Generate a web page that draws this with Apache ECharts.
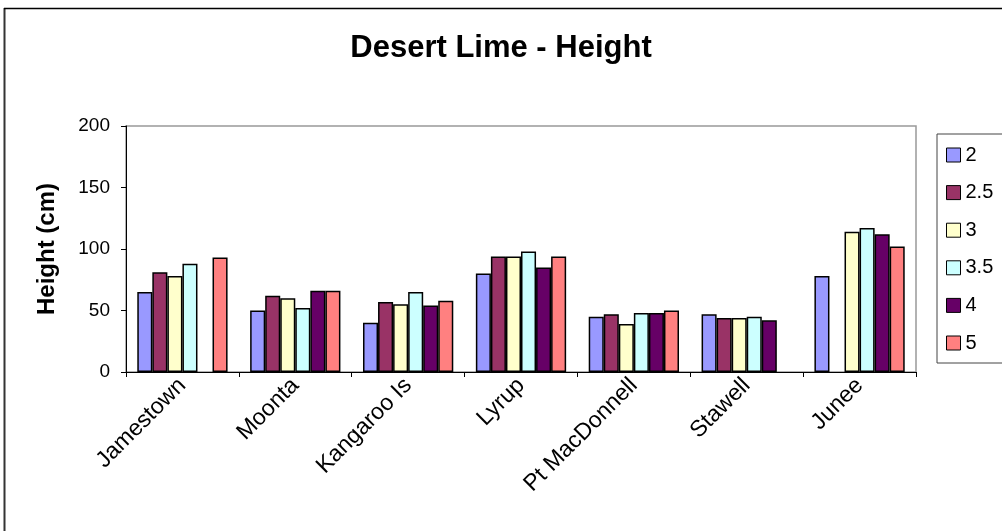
<!DOCTYPE html>
<html>
<head>
<meta charset="utf-8">
<script src="https://cdn.jsdelivr.net/npm/echarts@6/dist/echarts.min.js"></script>
<style>
html,body{margin:0;padding:0;background:#fff;}
#chart{width:1002px;height:531px;}
</style>
</head>
<body>
<div id="chart"></div>
<script>
const categories = ['Jamestown', 'Moonta', 'Kangaroo Is', 'Lyrup', 'Pt MacDonnell', 'Stawell', 'Junee'];
const seriesNames = ['2', '2.5', '3', '3.5', '4', '5'];
const s2   = [65, 50, 40, 80, 45, 47, 78];
const s2_5 = [81, 62, 57, 94, 47, 44, null];
const s3   = [78, 60, 55, 94, 39, 44, 114];
const s3_5 = [88, 52, 65, 98, 48, 45, 117];
const s4   = [null, 66, 54, 85, 48, 42, 112];
const s5   = [93, 66, 58, 94, 50, null, 102];
const yTicks = [0, 50, 100, 150, 200];

const values = [s2, s2_5, s3, s3_5, s4, s5];
const colors = ['#9999FF', '#993366', '#FFFFCC', '#CCFFFF', '#660066', '#FF8080'];
const FONT = 'Liberation Sans, Arial, sans-serif';

const chart = echarts.init(document.getElementById('chart'), null, {renderer: 'canvas'});
chart.setOption({
  animation: false,
  backgroundColor: '#fff',
  title: {
    text: 'Desert Lime - Height',
    left: 'center',
    top: 33,
    padding: 0,
    textStyle: {fontFamily: FONT, fontSize: 31, fontWeight: 'bold', color: '#000'}
  },
  graphic: [
    {type: 'line', shape: {x1: 4.5, y1: 8, x2: 4.5, y2: 540}, style: {stroke: '#333', lineWidth: 2}},
    {type: 'line', shape: {x1: 4, y1: 8.5, x2: 1010, y2: 8.5}, style: {stroke: '#000', lineWidth: 1.5}}
  ],
  legend: {
    orient: 'vertical',
    left: 937,
    top: 134,
    padding: [11, 40, 10, 9],
    borderColor: '#444',
    borderWidth: 1,
    itemWidth: 14,
    itemHeight: 14,
    itemGap: 17.6,
    icon: 'rect',
    itemStyle: {borderColor: '#000', borderWidth: 1},
    textStyle: {fontFamily: FONT, fontSize: 20, color: '#000'},
    data: seriesNames
  },
  grid: {
    left: 126, right: 86, top: 126, bottom: 159,
    show: true, borderColor: '#999', borderWidth: 1.5, backgroundColor: '#fff'
  },
  xAxis: {
    type: 'category',
    data: categories,
    axisLine: {lineStyle: {color: '#000', width: 1}},
    axisTick: {show: true, length: 5, inside: false, lineStyle: {color: '#000'}},
    axisLabel: {rotate: 45, fontFamily: FONT, fontSize: 23, color: '#000', margin: 10, interval: 0}
  },
  yAxis: {
    type: 'value',
    min: yTicks[0],
    max: yTicks[yTicks.length - 1],
    interval: 50,
    name: 'Height (cm)',
    nameLocation: 'middle',
    nameRotate: 90,
    nameGap: 67,
    nameTextStyle: {fontFamily: FONT, fontSize: 24, fontWeight: 'bold', color: '#000'},
    axisLine: {show: true, lineStyle: {color: '#000', width: 1}},
    axisTick: {show: true, length: 5, lineStyle: {color: '#000'}},
    splitLine: {show: false},
    axisLabel: {fontFamily: FONT, fontSize: 19, color: '#000', margin: 16}
  },
  series: seriesNames.map((name, i) => ({
    name: name,
    type: 'bar',
    data: values[i],
    barGap: '0%',
    barCategoryGap: '20%',
    itemStyle: {color: colors[i], borderColor: '#000', borderWidth: 1.5}
  }))
});
</script>
</body>
</html>
